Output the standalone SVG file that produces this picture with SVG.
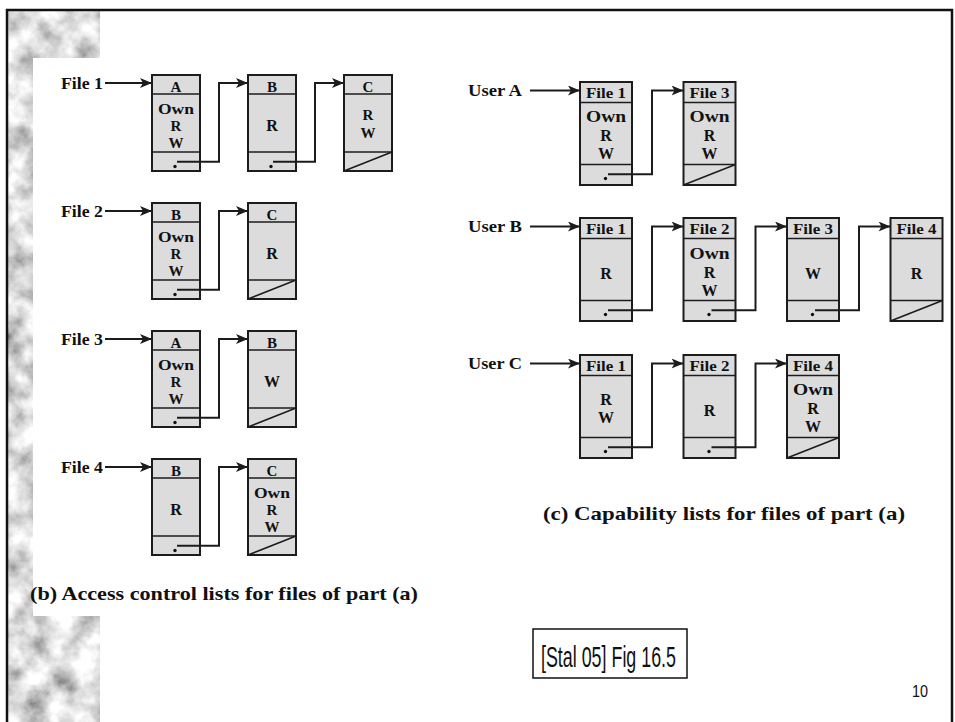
<svg xmlns="http://www.w3.org/2000/svg" width="955" height="722" viewBox="0 0 955 722">
<style>
.box{fill:#dcdcdc;stroke:#1c1c1c;stroke-width:2}
.dv{stroke:#1c1c1c;stroke-width:1.6}
.sl{stroke:#1c1c1c;stroke-width:1.6}
.dot{fill:#111}
.t{font-family:"Liberation Serif","Times New Roman",serif;font-weight:bold;fill:#111;text-anchor:middle}
.h{font-size:15px}
.b{font-size:15px}
.c{font-size:16px}
.lab{font-family:"Liberation Serif","Times New Roman",serif;font-weight:bold;fill:#111;font-size:17px}
.cap{font-family:"Liberation Serif","Times New Roman",serif;font-weight:bold;fill:#111;font-size:19px}
.con{fill:none;stroke:#1c1c1c;stroke-width:2;marker-end:url(#ah)}
.sans{font-family:"Liberation Sans Narrow","Liberation Sans",Arial,sans-serif;fill:#111}
</style>
<defs>
<marker id="ah" viewBox="0 0 12 10" refX="12" refY="5" markerWidth="12" markerHeight="10" orient="auto" markerUnits="userSpaceOnUse">
<path d="M0,0 L12,5 L0,10 L3,5 Z" fill="#1c1c1c"/>
</marker>
<filter id="tex" x="0" y="0" width="1" height="1">
<feTurbulence type="fractalNoise" baseFrequency="0.04" numOctaves="5" seed="7"/>
<feColorMatrix type="matrix" values="1.3 0 0 0 0.07  1.3 0 0 0 0.07  1.3 0 0 0 0.07  0 0 0 0 1"/>
</filter>
</defs>

<!-- slide background -->
<rect x="0" y="0" width="955" height="722" fill="#ffffff"/>
<rect x="8" y="11" width="92" height="711" fill="#aaaaaa" filter="url(#tex)"/>
<rect x="33" y="58" width="407" height="558" fill="#ffffff"/>
<g id="frame" fill="none" stroke="#111" stroke-width="2.5">
<path d="M7,722 V10 H952 V722"/>
</g>

<!-- (b) Access control lists -->
<g id="b-labels">
<text class="lab" x="103" y="88.5" text-anchor="end" textLength="42" lengthAdjust="spacingAndGlyphs">File 1</text>
<text class="lab" x="103" y="216.5" text-anchor="end" textLength="42" lengthAdjust="spacingAndGlyphs">File 2</text>
<text class="lab" x="103" y="344.5" text-anchor="end" textLength="42" lengthAdjust="spacingAndGlyphs">File 3</text>
<text class="lab" x="103" y="472.5" text-anchor="end" textLength="42" lengthAdjust="spacingAndGlyphs">File 4</text>
</g>

<g id="b-f1-a" transform="translate(152,75)">
<rect class="box" width="48" height="96"/><line class="dv" x1="0" y1="19" x2="48" y2="19"/><line class="dv" x1="0" y1="77" x2="48" y2="77"/>
<text class="t h" x="24" y="16.5">A</text>
<text class="t b" x="24" y="39" textLength="36" lengthAdjust="spacingAndGlyphs">Own</text><text class="t b" x="24" y="56">R</text><text class="t b" x="24" y="73.3">W</text>
<circle class="dot" cx="23" cy="91.5" r="1.7"/>
</g>
<g id="b-f1-b" transform="translate(248,75)">
<rect class="box" width="48" height="96"/><line class="dv" x1="0" y1="19" x2="48" y2="19"/><line class="dv" x1="0" y1="77" x2="48" y2="77"/>
<text class="t h" x="24" y="16.5">B</text>
<text class="t c" x="24" y="56">R</text>
<circle class="dot" cx="23" cy="91.5" r="1.7"/>
</g>
<g id="b-f1-c" transform="translate(344,75)">
<rect class="box" width="48" height="96"/><line class="dv" x1="0" y1="19" x2="48" y2="19"/><line class="dv" x1="0" y1="77" x2="48" y2="77"/>
<text class="t h" x="24" y="16.5">C</text>
<text class="t b" x="24" y="45">R</text><text class="t b" x="24" y="63.3">W</text>
<line class="sl" x1="0" y1="96" x2="48" y2="77"/>
</g>

<g id="b-f2-b" transform="translate(152,203)">
<rect class="box" width="48" height="96"/><line class="dv" x1="0" y1="19" x2="48" y2="19"/><line class="dv" x1="0" y1="77" x2="48" y2="77"/>
<text class="t h" x="24" y="16.5">B</text>
<text class="t b" x="24" y="39" textLength="36" lengthAdjust="spacingAndGlyphs">Own</text><text class="t b" x="24" y="56">R</text><text class="t b" x="24" y="73.3">W</text>
<circle class="dot" cx="23" cy="91.5" r="1.7"/>
</g>
<g id="b-f2-c" transform="translate(248,203)">
<rect class="box" width="48" height="96"/><line class="dv" x1="0" y1="19" x2="48" y2="19"/><line class="dv" x1="0" y1="77" x2="48" y2="77"/>
<text class="t h" x="24" y="16.5">C</text>
<text class="t c" x="24" y="56">R</text>
<line class="sl" x1="0" y1="96" x2="48" y2="77"/>
</g>

<g id="b-f3-a" transform="translate(152,331)">
<rect class="box" width="48" height="96"/><line class="dv" x1="0" y1="19" x2="48" y2="19"/><line class="dv" x1="0" y1="77" x2="48" y2="77"/>
<text class="t h" x="24" y="16.5">A</text>
<text class="t b" x="24" y="39" textLength="36" lengthAdjust="spacingAndGlyphs">Own</text><text class="t b" x="24" y="56">R</text><text class="t b" x="24" y="73.3">W</text>
<circle class="dot" cx="23" cy="91.5" r="1.7"/>
</g>
<g id="b-f3-b" transform="translate(248,331)">
<rect class="box" width="48" height="96"/><line class="dv" x1="0" y1="19" x2="48" y2="19"/><line class="dv" x1="0" y1="77" x2="48" y2="77"/>
<text class="t h" x="24" y="16.5">B</text>
<text class="t c" x="24" y="56">W</text>
<line class="sl" x1="0" y1="96" x2="48" y2="77"/>
</g>

<g id="b-f4-b" transform="translate(152,459)">
<rect class="box" width="48" height="96"/><line class="dv" x1="0" y1="19" x2="48" y2="19"/><line class="dv" x1="0" y1="77" x2="48" y2="77"/>
<text class="t h" x="24" y="16.5">B</text>
<text class="t c" x="24" y="56">R</text>
<circle class="dot" cx="23" cy="91.5" r="1.7"/>
</g>
<g id="b-f4-c" transform="translate(248,459)">
<rect class="box" width="48" height="96"/><line class="dv" x1="0" y1="19" x2="48" y2="19"/><line class="dv" x1="0" y1="77" x2="48" y2="77"/>
<text class="t h" x="24" y="16.5">C</text>
<text class="t b" x="24" y="39" textLength="36" lengthAdjust="spacingAndGlyphs">Own</text><text class="t b" x="24" y="56">R</text><text class="t b" x="24" y="73.3">W</text>
<line class="sl" x1="0" y1="96" x2="48" y2="77"/>
</g>

<text id="cap-b" class="cap" x="30" y="600" textLength="388" lengthAdjust="spacingAndGlyphs">(b) Access control lists for files of part (a)</text>

<!-- (c) Capability lists -->
<g id="c-labels">
<text class="lab" x="468" y="95.5" textLength="54" lengthAdjust="spacingAndGlyphs">User A</text>
<text class="lab" x="468" y="231.5" textLength="54" lengthAdjust="spacingAndGlyphs">User B</text>
<text class="lab" x="468" y="368.5" textLength="54" lengthAdjust="spacingAndGlyphs">User C</text>
</g>

<g id="c-ua-f1" transform="translate(580,82)">
<rect class="box" width="52" height="103"/><line class="dv" x1="0" y1="20.5" x2="52" y2="20.5"/><line class="dv" x1="0" y1="82.5" x2="52" y2="82.5"/>
<text class="t h" x="26" y="15.5" textLength="40" lengthAdjust="spacingAndGlyphs">File 1</text>
<text class="t c" x="26" y="40" textLength="40" lengthAdjust="spacingAndGlyphs">Own</text><text class="t c" x="26" y="58.5">R</text><text class="t c" x="26" y="77">W</text>
<circle class="dot" cx="25.5" cy="96.5" r="1.7"/>
</g>
<g id="c-ua-f3" transform="translate(683.5,82)">
<rect class="box" width="52" height="103"/><line class="dv" x1="0" y1="20.5" x2="52" y2="20.5"/><line class="dv" x1="0" y1="82.5" x2="52" y2="82.5"/>
<text class="t h" x="26" y="15.5" textLength="40" lengthAdjust="spacingAndGlyphs">File 3</text>
<text class="t c" x="26" y="40" textLength="40" lengthAdjust="spacingAndGlyphs">Own</text><text class="t c" x="26" y="58.5">R</text><text class="t c" x="26" y="77">W</text>
<line class="sl" x1="0" y1="103" x2="52" y2="82.5"/>
</g>

<g id="c-ub-f1" transform="translate(580,218)">
<rect class="box" width="52" height="103"/><line class="dv" x1="0" y1="20.5" x2="52" y2="20.5"/><line class="dv" x1="0" y1="82.5" x2="52" y2="82.5"/>
<text class="t h" x="26" y="15.5" textLength="40" lengthAdjust="spacingAndGlyphs">File 1</text>
<text class="t c" x="26" y="61">R</text>
<circle class="dot" cx="25.5" cy="96.5" r="1.7"/>
</g>
<g id="c-ub-f2" transform="translate(683.5,218)">
<rect class="box" width="52" height="103"/><line class="dv" x1="0" y1="20.5" x2="52" y2="20.5"/><line class="dv" x1="0" y1="82.5" x2="52" y2="82.5"/>
<text class="t h" x="26" y="15.5" textLength="40" lengthAdjust="spacingAndGlyphs">File 2</text>
<text class="t c" x="26" y="41" textLength="40" lengthAdjust="spacingAndGlyphs">Own</text><text class="t c" x="26" y="59.5">R</text><text class="t c" x="26" y="78">W</text>
<circle class="dot" cx="25.5" cy="96.5" r="1.7"/>
</g>
<g id="c-ub-f3" transform="translate(787,218)">
<rect class="box" width="52" height="103"/><line class="dv" x1="0" y1="20.5" x2="52" y2="20.5"/><line class="dv" x1="0" y1="82.5" x2="52" y2="82.5"/>
<text class="t h" x="26" y="15.5" textLength="40" lengthAdjust="spacingAndGlyphs">File 3</text>
<text class="t c" x="26" y="61">W</text>
<circle class="dot" cx="25.5" cy="96.5" r="1.7"/>
</g>
<g id="c-ub-f4" transform="translate(890.5,218)">
<rect class="box" width="52" height="103"/><line class="dv" x1="0" y1="20.5" x2="52" y2="20.5"/><line class="dv" x1="0" y1="82.5" x2="52" y2="82.5"/>
<text class="t h" x="26" y="15.5" textLength="40" lengthAdjust="spacingAndGlyphs">File 4</text>
<text class="t c" x="26" y="61">R</text>
<line class="sl" x1="0" y1="103" x2="52" y2="82.5"/>
</g>

<g id="c-uc-f1" transform="translate(580,355)">
<rect class="box" width="52" height="103"/><line class="dv" x1="0" y1="20.5" x2="52" y2="20.5"/><line class="dv" x1="0" y1="82.5" x2="52" y2="82.5"/>
<text class="t h" x="26" y="15.5" textLength="40" lengthAdjust="spacingAndGlyphs">File 1</text>
<text class="t c" x="26" y="50">R</text><text class="t c" x="26" y="68.3">W</text>
<circle class="dot" cx="25.5" cy="96.5" r="1.7"/>
</g>
<g id="c-uc-f2" transform="translate(683.5,355)">
<rect class="box" width="52" height="103"/><line class="dv" x1="0" y1="20.5" x2="52" y2="20.5"/><line class="dv" x1="0" y1="82.5" x2="52" y2="82.5"/>
<text class="t h" x="26" y="15.5" textLength="40" lengthAdjust="spacingAndGlyphs">File 2</text>
<text class="t c" x="26" y="61">R</text>
<circle class="dot" cx="25.5" cy="96.5" r="1.7"/>
</g>
<g id="c-uc-f4" transform="translate(787,355)">
<rect class="box" width="52" height="103"/><line class="dv" x1="0" y1="20.5" x2="52" y2="20.5"/><line class="dv" x1="0" y1="82.5" x2="52" y2="82.5"/>
<text class="t h" x="26" y="15.5" textLength="40" lengthAdjust="spacingAndGlyphs">File 4</text>
<text class="t c" x="26" y="40" textLength="40" lengthAdjust="spacingAndGlyphs">Own</text><text class="t c" x="26" y="58.5">R</text><text class="t c" x="26" y="77">W</text>
<line class="sl" x1="0" y1="103" x2="52" y2="82.5"/>
</g>

<text id="cap-c" class="cap" x="543" y="520" textLength="362" lengthAdjust="spacingAndGlyphs">(c) Capability lists for files of part (a)</text>

<!-- connectors -->
<g id="connectors">
<path class="con" d="M105,83 H152"/>
<path class="con" d="M177,161.7 H219 V83 H248"/>
<path class="con" d="M273,161.7 H315 V83 H344"/>
<path class="con" d="M105,211 H152"/>
<path class="con" d="M177,289.7 H219 V211 H248"/>
<path class="con" d="M105,339 H152"/>
<path class="con" d="M177,417.7 H219 V339 H248"/>
<path class="con" d="M105,467 H152"/>
<path class="con" d="M177,545.7 H219 V467 H248"/>

<path class="con" d="M530,90.5 H580"/>
<path class="con" d="M608,174.3 H652 V90.5 H683.5"/>
<path class="con" d="M530,226.5 H580"/>
<path class="con" d="M608,310.3 H652 V226.5 H683.5"/>
<path class="con" d="M711.5,310.3 H755.5 V226.5 H787"/>
<path class="con" d="M815,310.3 H859 V226.5 H890.5"/>
<path class="con" d="M530,363.5 H580"/>
<path class="con" d="M608,447.3 H652 V363.5 H683.5"/>
<path class="con" d="M711.5,447.3 H755.5 V363.5 H787"/>
</g>

<g id="source">
<rect x="533" y="629" width="154" height="49" fill="#ffffff" stroke="#111" stroke-width="1.5"/>
<text class="sans" x="541" y="667" font-size="30" textLength="135" lengthAdjust="spacingAndGlyphs">[Stal 05] Fig 16.5</text>
</g>
<text id="page" class="sans" x="912" y="697" font-size="17" textLength="16" lengthAdjust="spacingAndGlyphs">10</text>
</svg>
